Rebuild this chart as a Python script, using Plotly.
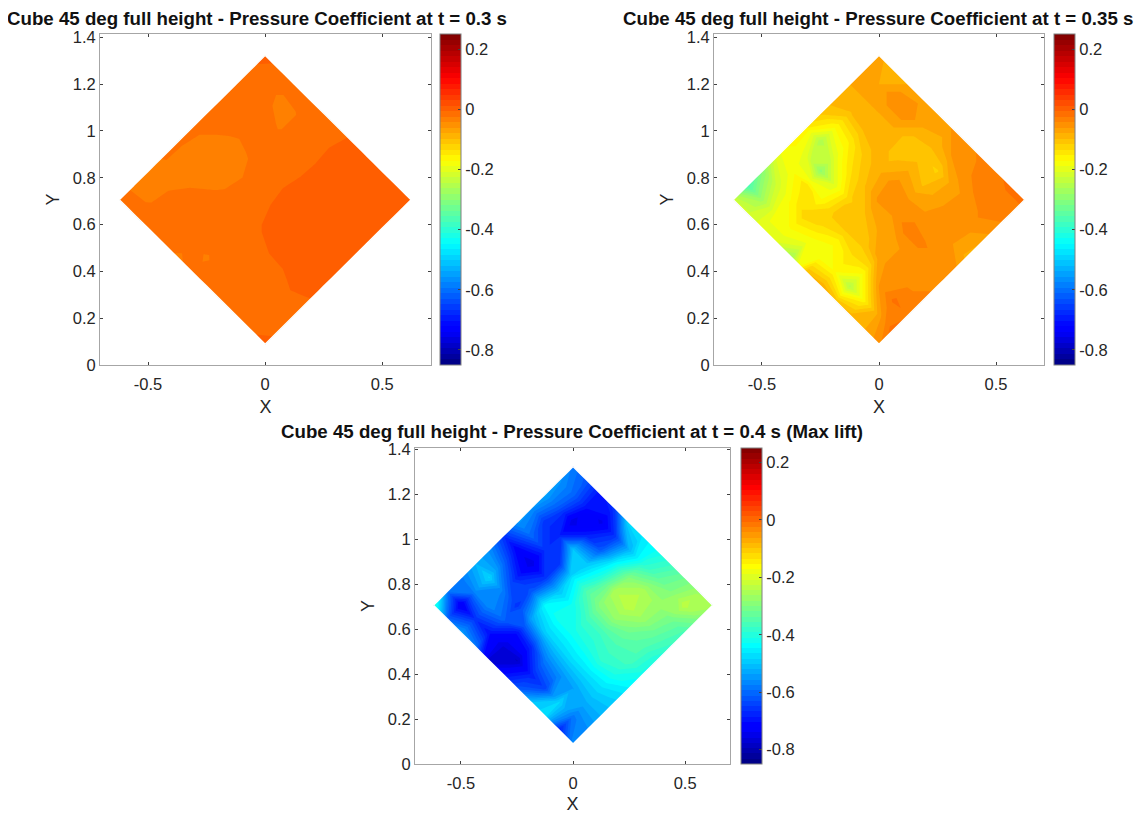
import numpy as np
import plotly.graph_objects as go

GRID_A = [0.0, 0.1, 0.2, 0.3, 0.4, 0.5, 0.6, 0.7, 0.8, 0.9, 1.0]
GRID_B = [0.0, 0.1, 0.2, 0.3, 0.4, 0.5, 0.6, 0.7, 0.8, 0.9, 1.0]

CP_T030 = [
    [.002, -.014, -.016, -.016, -.016, -.012, -.004, .002, .002, .002, .002],
    [-.012, -.016, -.028, -.026, -.018, -.009, -.003, .002, .002, .002, .002],
    [-.016, -.018, -.022, -.026, -.018, -.010, -.003, .002, .002, .002, .002],
    [-.016, -.017, -.018, -.018, -.016, -.010, -.002, .002, .002, .002, .002],
    [-.019, -.022, -.027, -.024, -.018, -.009, .002, .002, .002, .002, .002],
    [-.022, -.028, -.033, -.030, -.019, -.010, -.001, .002, .002, .002, .002],
    [-.023, -.030, -.033, -.027, -.019, -.012, -.005, .002, .002, .002, .002],
    [-.024, -.028, -.026, -.021, -.016, -.013, -.012, -.010, -.009, -.004, -.008],
    [-.030, -.028, -.020, -.016, -.015, -.015, -.015, -.015, -.015, -.014, -.012],
    [-.028, -.027, -.017, -.016, -.018, -.027, -.016, -.015, -.015, -.014, -.012],
    [-.018, -.016, -.016, -.018, -.028, -.020, -.016, -.015, -.014, -.010, .000],
]
CP_T035 = [
    [-.07, -.10, -.08, -.07, -.07, -.06, -.05, -.04, -.03, -.02, -.02],
    [-.07, -.08, -.045, -.045, -.08, -.09, -.06, -.05, -.03, -.035, -.035],
    [-.08, -.08, -.08, -.08, -.11, -.11, -.12, -.07, -.055, -.04, -.05],
    [-.09, -.10, -.09, -.085, -.105, -.08, -.10, -.07, -.05, -.055, -.08],
    [-.11, -.17, -.15, -.11, -.085, -.05, -.06, -.06, -.06, -.06, -.085],
    [-.15, -.26, -.20, -.14, -.10, -.055, -.06, -.03, -.04, -.05, -.05],
    [-.16, -.20, -.29, -.20, -.12, -.10, -.075, -.07, -.05, -.05, -.045],
    [-.20, -.18, -.14, -.17, -.11, -.10, -.11, -.07, -.05, -.045, -.04],
    [-.30, -.22, -.17, -.12, -.14, -.17, -.14, -.16, -.06, -.02, -.03],
    [-.37, -.27, -.18, -.17, -.19, -.18, -.17, -.25, -.16, -.07, -.01],
    [-.22, -.22, -.20, -.21, -.27, -.10, -.08, -.10, -.09, -.08, -.05],
]
CP_T040 = [
    [-.58, -.62, -.70, -.65, -.47, -.46, -.43, -.38, -.32, -.27, -.25],
    [-.55, -.60, -.70, -.75, -.66, -.52, -.40, -.34, -.30, -.23, -.30],
    [-.53, -.62, -.76, -.68, -.62, -.44, -.30, -.25, -.27, -.31, -.36],
    [-.55, -.66, -.68, -.50, -.50, -.40, -.25, -.23, -.27, -.33, -.38],
    [-.55, -.60, -.66, -.66, -.46, -.35, -.29, -.28, -.32, -.35, -.41],
    [-.66, -.72, -.76, -.66, -.50, -.42, -.37, -.37, -.36, -.36, -.42],
    [-.56, -.60, -.68, -.62, -.44, -.42, -.42, -.41, -.39, -.41, -.45],
    [-.52, -.48, -.58, -.66, -.54, -.49, -.48, -.47, -.47, -.47, -.49],
    [-.58, -.56, -.56, -.60, -.70, -.67, -.58, -.56, -.54, -.52, -.52],
    [-.58, -.74, -.66, -.70, -.76, -.78, -.68, -.64, -.48, -.58, -.56],
    [-.38, -.60, -.54, -.58, -.78, -.70, -.62, -.50, -.47, -.68, -.56],
]

TITLES = [
    "Cube 45 deg full height - Pressure Coefficient at t = 0.3 s",
    "Cube 45 deg full height - Pressure Coefficient at t = 0.35 s",
    "Cube 45 deg full height - Pressure Coefficient at t = 0.4 s (Max lift)",
]
X_TICKS = [-0.5, 0, 0.5]
X_TICK_TEXT = ["-0.5", "0", "0.5"]
Y_TICKS = [0, 0.2, 0.4, 0.6, 0.8, 1, 1.2, 1.4]
Y_TICK_TEXT = ["0", "0.2", "0.4", "0.6", "0.8", "1", "1.2", "1.4"]
CB_TICKS = [-0.8, -0.6, -0.4, -0.2, 0, 0.2]
CB_TICK_TEXT = ["-0.8", "-0.6", "-0.4", "-0.2", "0", "0.2"]

BODY = 8  # default page margin around the plot div
W, H = 1143 - BODY, 814 - BODY
CMIN, CMAX = -0.85, 0.25
LEVEL = (CMAX - CMIN) / 60
JET = [[0, "#00007f"], [0.11, "#0000ff"], [0.125, "#0000ff"], [0.375, "#00ffff"],
       [0.625, "#ffff00"], [0.875, "#ff0000"], [1, "#7f0000"]]
# same map with its stops half a contour band lower, so a band shows its mid-value colour
JET_MID = [[0, "#00007f"], [0.1017, "#0000ff"], [0.1167, "#0000ff"], [0.3667, "#00ffff"],
           [0.6167, "#ffff00"], [0.8667, "#ff0000"], [1, "#7f0000"]]
FONT = "Liberation Sans"
INK = "#262626"


def fx(px):
    return (px - BODY) / W


def fy(py):
    return 1 - (py - BODY) / H


# plot box in page pixels: left, right, top, bottom; colorbar left; title centre
PANELS = [
    dict(box=(100, 431, 34, 365), cb=440, yr=1.414, xr=(-.705, .708), z=CP_T030, tx=257, ty=18, cs=JET_MID),
    dict(box=(714, 1044, 34, 365), cb=1054, yr=1.414, xr=(-.705, .705), z=CP_T035, tx=878, ty=19, cs=JET_MID),
    dict(box=(415, 730, 448, 764), cb=741, yr=1.405, xr=(-.705, .70), z=CP_T040, tx=572, ty=431, cs=JET),
]

a = np.array(GRID_A)
b = np.array(GRID_B)
A, B = np.meshgrid(a, b)
CX = (A - B) * 0.623
CY = 1.323 - (A + B) * 0.617

fig = go.Figure()
layout = dict(
    width=W, height=H, autosize=False, margin=dict(l=0, r=0, t=0, b=0, autoexpand=False),
    paper_bgcolor="white", plot_bgcolor="white", showlegend=False,
    font=dict(family=FONT, color=INK), annotations=[],
)
EDGE = dict(showgrid=False, minorgridcount=0, showticklabels="none", showline=False,
            startline=True, endline=True, startlinecolor="white", endlinecolor="white",
            startlinewidth=1.5, endlinewidth=1.5)

for i, p in enumerate(PANELS):
    n = "" if i == 0 else str(i + 1)
    L, R, T, Bt = p["box"]
    axis = dict(showgrid=False, zeroline=False, showline=True, mirror="ticks",
                linecolor="#a6a6a6", linewidth=1, ticks="inside", ticklen=3,
                tickcolor="#404040", tickfont=dict(size=16.5, color=INK, family=FONT))
    layout["xaxis" + n] = dict(axis, domain=[fx(L), fx(R)], range=list(p["xr"]),
                               anchor="y" + n, tickvals=X_TICKS, ticktext=X_TICK_TEXT,
                               ticklabelstandoff=4,
                               title=dict(text="X", font=dict(size=18, color=INK), standoff=8))
    layout["yaxis" + n] = dict(axis, domain=[fy(Bt), fy(T)], range=[0, p["yr"]],
                               anchor="x" + n, tickvals=Y_TICKS, ticktext=Y_TICK_TEXT,
                               title=dict(text="Y", font=dict(size=18, color=INK), standoff=8))
    cid = "c" + str(i)
    fig.add_trace(go.Carpet(
        carpet=cid, a=a, b=b, x=CX, y=CY, xaxis="x" + n, yaxis="y" + n,
        aaxis=EDGE, baxis=EDGE,
    ))
    fig.add_trace(go.Contourcarpet(
        carpet=cid, a=a, b=b, z=p["z"], xaxis="x" + n, yaxis="y" + n,
        colorscale=p["cs"], zmin=CMIN, zmax=CMAX, autocontour=False,
        contours=dict(start=CMIN, end=CMAX, size=LEVEL, coloring="fill", showlines=False),
        line=dict(width=0, smoothing=0),
        colorbar=dict(
            x=fx(p["cb"]), xanchor="left", xpad=0, ypad=0, thickness=21, thicknessmode="pixels",
            y=fy((T + Bt) / 2), yanchor="middle", len=(Bt - T) / H, lenmode="fraction",
            outlinewidth=1, outlinecolor="#808080",
            tickvals=CB_TICKS, ticktext=CB_TICK_TEXT, ticks="inside", ticklen=3,
            tickcolor="#404040", tickfont=dict(size=16.5, color=INK, family=FONT),
        ),
    ))
    layout["annotations"].append(dict(
        text="<b>" + TITLES[i] + "</b>", x=fx(p["tx"]), y=fy(p["ty"]), xref="paper", yref="paper",
        xanchor="center", yanchor="middle", showarrow=False,
        font=dict(size=18.7, color="#111111", family=FONT),
    ))

fig.update_layout(**layout)
fig.write_html("out.html")
